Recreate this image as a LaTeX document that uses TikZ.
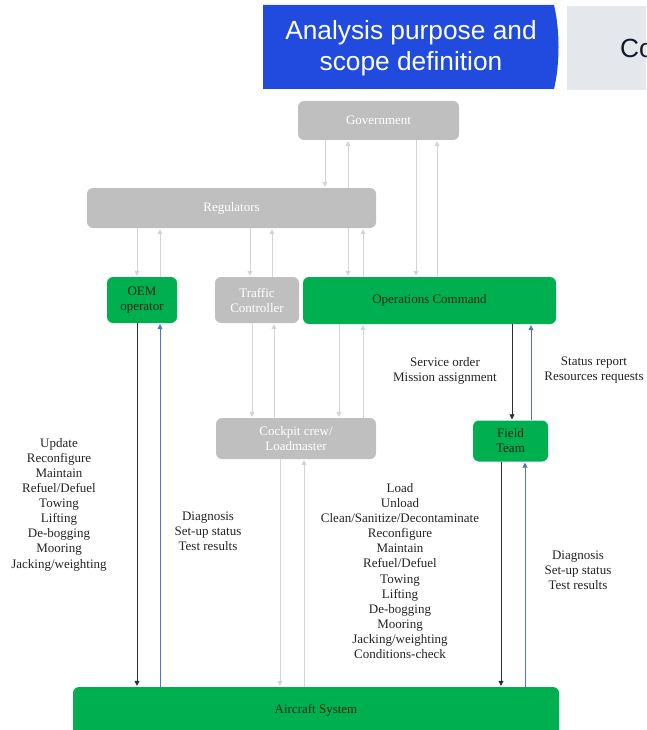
\documentclass[tikz,border=0pt]{standalone}
\usepackage{fontspec}
\setmainfont{Liberation Serif}
\newfontfamily\bannerfont{Liberation Sans}
\usetikzlibrary{arrows.meta}
\definecolor{bannerblue}{RGB}{32,75,222}
\definecolor{bannergray}{RGB}{228,231,235}
\definecolor{boxgreen}{RGB}{0,176,80}
\definecolor{boxgray}{RGB}{191,191,191}
\definecolor{lightline}{RGB}{212,212,212}
\definecolor{darkline}{RGB}{45,45,45}
\definecolor{blueline}{RGB}{80,115,200}
\definecolor{greentext}{RGB}{15,40,20}
\definecolor{labeltext}{RGB}{35,35,35}
\definecolor{cotext}{RGB}{20,25,40}
\begin{document}
\begin{tikzpicture}[x=1pt,y=-1pt,
  greenbox/.style={fill=boxgreen, draw=none, rounded corners=6pt, inner sep=0pt, text=greentext, font=\fontsize{13}{15}\selectfont, align=center},
  graybox/.style={fill=boxgray, draw=none, rounded corners=6pt, inner sep=0pt, text=white, font=\fontsize{13}{15}\selectfont, align=center},
  conn/.style={line width=0.8pt, -{Triangle[length=5pt,width=5pt]}, shorten >=1pt},
  gconn/.style={conn, draw=lightline, fill=lightline},
  kconn/.style={conn, draw=darkline, fill=darkline},
  bconn/.style={conn, draw=blueline, fill=blueline},
  lbl/.style={text=labeltext, font=\fontsize{13}{15.1}\selectfont, align=center, inner sep=0pt}]
\useasboundingbox (0,0) rectangle (646,730);
\clip (0,0) rectangle (646,730);
% banner
\fill[bannerblue] (263,5) -- (554,5) .. controls (560,30) and (560,64) .. (554,89) -- (263,89) -- cycle;
\node[text=white, font=\bannerfont\fontsize{26.3}{31}\selectfont, align=center, inner sep=0pt] (banner) at (411,48) {Analysis purpose and\\scope definition};
\fill[bannergray] (567,6) rectangle (660,90);
\node[text=cotext, font=\bannerfont\fontsize{26.3}{31}\selectfont, anchor=west, inner sep=0pt] (co) at (620,48) {Co};
% boxes
\node[graybox, minimum width=161pt, minimum height=39pt] (gov) at (378.5,120.5) {Government};
\node[graybox, minimum width=289pt, minimum height=40pt] (reg) at (231.5,208) {Regulators};
\node[greenbox, minimum width=70pt, minimum height=46pt] (oem) at (142,300) {OEM\\operator};
\node[graybox, minimum width=84pt, minimum height=46pt] (tc) at (257,300) {Traffic\\Controller};
\node[greenbox, minimum width=253pt, minimum height=47pt] (ops) at (429.5,300.5) {Operations Command};
\node[graybox, minimum width=160pt, minimum height=41pt] (cc) at (296,438.5) {Cockpit crew/\\Loadmaster};
\node[greenbox, minimum width=75pt, minimum height=41pt] (ft) at (510.5,441) {Field\\Team};
\node[greenbox, minimum width=486pt, minimum height=53pt] (ac) at (316,713.5) {};
\node[text=greentext, font=\fontsize{13}{15}\selectfont, inner sep=0pt] (actext) at (316,710) {Aircraft System};
% connectors gov/reg
\draw[gconn] (gov.south -| 325,0) -- (reg.north -| 325,0);
\draw[gconn] (reg.north -| 348,0) -- (gov.south -| 348,0);
\draw[gconn] (gov.south -| 416,0) -- (ops.north -| 416,0);
\draw[gconn] (ops.north -| 437,0) -- (gov.south -| 437,0);
% reg to lower
\draw[gconn] (reg.south -| 137,0) -- (oem.north -| 137,0);
\draw[gconn] (oem.north -| 160,0) -- (reg.south -| 160,0);
\draw[gconn] (reg.south -| 250,0) -- (tc.north -| 250,0);
\draw[gconn] (tc.north -| 272,0) -- (reg.south -| 272,0);
\draw[gconn] (reg.south -| 348,0) -- (ops.north -| 348,0);
\draw[gconn] (ops.north -| 363,0) -- (reg.south -| 363,0);
% middle
\draw[gconn] (tc.south -| 252,0) -- (cc.north -| 252,0);
\draw[gconn] (cc.north -| 274,0) -- (tc.south -| 274,0);
\draw[gconn] (ops.south -| 339,0) -- (cc.north -| 339,0);
\draw[gconn] (cc.north -| 363,0) -- (ops.south -| 363,0);
\draw[gconn] (cc.south -| 280,0) -- (ac.north -| 280,0);
\draw[gconn] (ac.north -| 304,0) -- (cc.south -| 304,0);
% OEM / field
\draw[kconn] (oem.south -| 137,0) -- (ac.north -| 137,0);
\draw[bconn] (ac.north -| 160,0) -- (oem.south -| 160,0);
\draw[kconn] (ops.south -| 512,0) -- (ft.north -| 512,0);
\draw[bconn] (ft.north -| 531,0) -- (ops.south -| 531,0);
\draw[kconn] (ft.south -| 501,0) -- (ac.north -| 501,0);
\draw[bconn] (ac.north -| 525,0) -- (ft.south -| 525,0);
% labels
\node[lbl] (l1) at (59,504.5) {Update\\Reconfigure\\Maintain\\Refuel/Defuel\\Towing\\Lifting\\De-bogging\\Mooring\\Jacking/weighting};
\node[lbl] (l2) at (208,531) {Diagnosis\\Set-up status\\Test results};
\node[lbl] (l3) at (400,571) {Load\\Unload\\Clean/Sanitize/Decontaminate\\Reconfigure\\Maintain\\Refuel/Defuel\\Towing\\Lifting\\De-bogging\\Mooring\\Jacking/weighting\\Conditions-check};
\node[lbl] (l4) at (578,570) {Diagnosis\\Set-up status\\Test results};
\node[lbl] (l5) at (445,370.5) {Service order\\Mission assignment};
\node[lbl] (l6) at (594,370.5) {Status report\\Resources requests};
\end{tikzpicture}
\end{document}
